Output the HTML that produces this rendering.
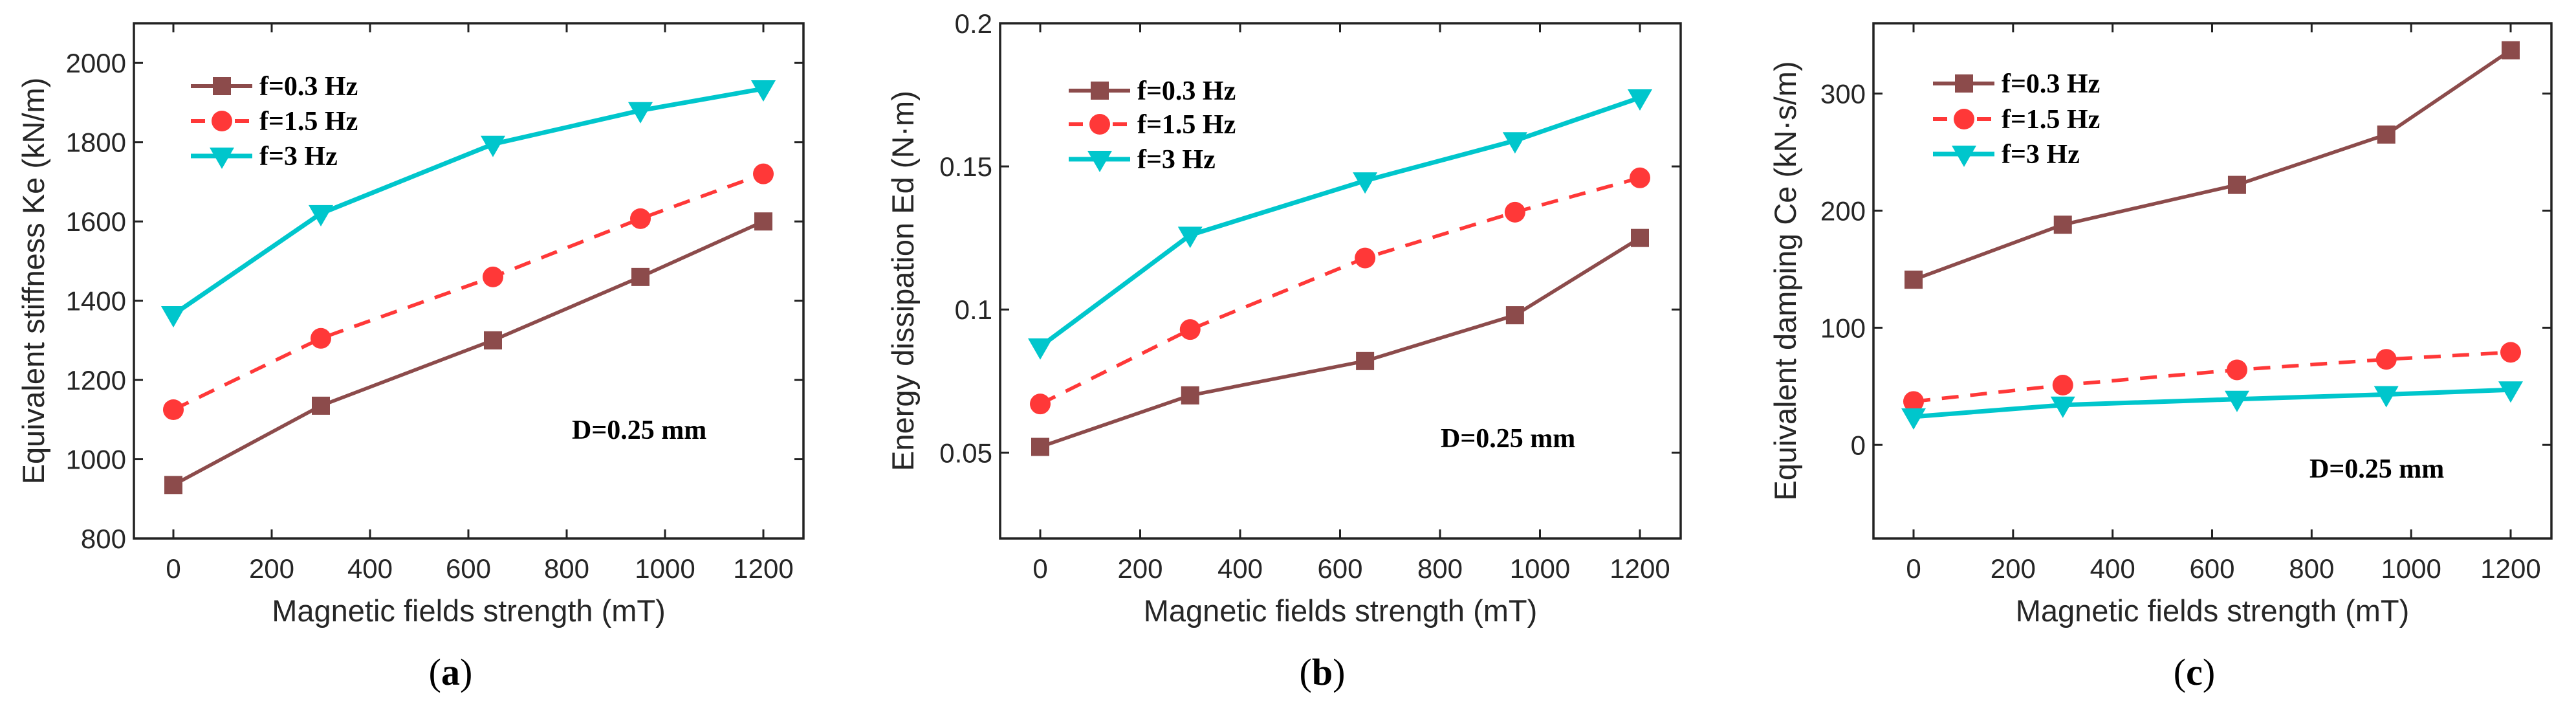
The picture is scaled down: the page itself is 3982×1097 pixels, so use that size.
<!DOCTYPE html>
<html><head><meta charset="utf-8"><style>
html,body{margin:0;padding:0;background:#fff;}
svg{display:block;}
text{font-family:"Liberation Sans",sans-serif;}
.tick{font-size:42px;fill:#262626;}
.ttl{font-size:47px;fill:#262626;}
.leg{font-family:"Liberation Serif",serif;font-size:42px;font-weight:bold;fill:#000;}
.cap{font-family:"Liberation Serif",serif;font-size:58px;fill:#000;}
</style></head><body>
<svg id="fig" width="3982" height="1097" xmlns="http://www.w3.org/2000/svg"></svg>
<script>
const xValues = [0, 300, 650, 950, 1200];
const xTicks = [0, 200, 400, 600, 800, 1000, 1200];
const seriesNames = ["f=0.3 Hz", "f=1.5 Hz", "f=3 Hz"];
const aLow = [935, 1135, 1300, 1460, 1600];
const aMid = [1125, 1305, 1460, 1607, 1720];
const aHigh = [1365, 1620, 1795, 1880, 1935];
const aTicks = [800, 1000, 1200, 1400, 1600, 1800, 2000];
const bLow = [0.052, 0.070, 0.082, 0.098, 0.125];
const bMid = [0.067, 0.093, 0.118, 0.134, 0.146];
const bHigh = [0.087, 0.126, 0.145, 0.159, 0.174];
const bTicks = [0.05, 0.1, 0.15, 0.2];
const cLow = [141, 188, 222, 265, 337];
const cMid = [37, 51, 64, 73, 79];
const cHigh = [24, 34, 39, 43, 47];
const cTicks = [0, 100, 200, 300];

const NS = "http://www.w3.org/2000/svg";
const fig = document.getElementById("fig");
function mk(tag, attrs, parent) {
  const e = document.createElementNS(NS, tag);
  for (const k in attrs) e.setAttribute(k, attrs[k]);
  parent.appendChild(e);
  return e;
}
const colors = ["#8c4b4b", "#ff3838", "#00c6cc"];
function marker(kind, x, y, g) {
  let m;
  if (kind === 0) m = mk("rect", {x: x - 14, y: y - 14, width: 28, height: 28, fill: colors[0]}, g);
  else if (kind === 1) m = mk("circle", {cx: x, cy: y, r: 16, fill: colors[1]}, g);
  else m = mk("polygon", {points: `${x-19},${y-13} ${x+19},${y-13} ${x},${y+20}`, fill: colors[2]}, g);
  
  
}
function panel(cfg) {
  const g = mk("g", {}, fig);
  
  
  const X = v => cfg.x0 + (v - 0) / 1200 * (cfg.x1200 - cfg.x0);
  const Y = v => cfg.bottom - (v - cfg.ymin) / (cfg.ymax - cfg.ymin) * (cfg.bottom - cfg.top);
  // ticks
  cfg.yTicks.forEach(t => {
    const y = Y(t);
    mk("line", {x1: cfg.left, x2: cfg.left + 14, y1: y, y2: y, stroke: "#222", "stroke-width": 3}, g);
    mk("line", {x1: cfg.right, x2: cfg.right - 14, y1: y, y2: y, stroke: "#222", "stroke-width": 3}, g);
    const tx = mk("text", {x: cfg.left - 12, y: y + 15, "text-anchor": "end", class: "tick"}, g);
    tx.textContent = cfg.fmt(t);
    
    
  });
  xTicks.forEach(t => {
    const x = X(t);
    mk("line", {x1: x, x2: x, y1: cfg.bottom, y2: cfg.bottom - 14, stroke: "#222", "stroke-width": 3}, g);
    mk("line", {x1: x, x2: x, y1: cfg.top, y2: cfg.top + 14, stroke: "#222", "stroke-width": 3}, g);
    const tx = mk("text", {x: x, y: cfg.bottom + 61, "text-anchor": "middle", class: "tick"}, g);
    tx.textContent = t;
    
    
  });
  const box = mk("rect", {x: cfg.left, y: cfg.top, width: cfg.right - cfg.left, height: cfg.bottom - cfg.top, fill: "none", stroke: "#222", "stroke-width": 3.5}, g);
  
  
  // series
  cfg.series.forEach((vals, i) => {
    const pts = vals.map((v, j) => X(xValues[j]) + "," + Y(v)).join(" ");
    const pl = mk("polyline", {points: pts, fill: "none", stroke: colors[i], "stroke-width": i === 2 ? 7 : 5.5, "stroke-dasharray": i === 1 ? "26,18" : "none", "stroke-linejoin": "round"}, g);
    
    
    vals.forEach((v, j) => marker(i, X(xValues[j]), Y(v), g));
  });
  // legend
  seriesNames.forEach((n, i) => {
    const y = cfg.legY[i];
    const ll = mk("line", {x1: cfg.legX, x2: cfg.legX + 95, y1: y, y2: y, stroke: colors[i], "stroke-width": i === 2 ? 7 : 6, "stroke-dasharray": i === 1 ? "22,12" : "none"}, g);
    
    
    marker(i, cfg.legX + 48, y, g);
    const tx = mk("text", {x: cfg.legX + 106, y: y + 14, class: "leg"}, g);
    tx.textContent = n;
    
    
  });
  const d = mk("text", {x: cfg.dX, y: cfg.dY + 14, class: "leg"}, g);
  d.textContent = "D=0.25 mm";
  
  
  const xt = mk("text", {x: (cfg.left + cfg.right) / 2, y: 960, "text-anchor": "middle", class: "ttl"}, g);
  xt.textContent = "Magnetic fields strength (mT)";
  
  
  const yt = mk("text", {x: 0, y: 0, "text-anchor": "middle", class: "ttl", transform: `translate(${cfg.ytX},434) rotate(-90)`}, g);
  yt.textContent = cfg.ytitle;
  
  
  const cap = mk("text", {x: (cfg.left + cfg.right) / 2 - 28, y: 1058, "text-anchor": "middle", class: "cap"}, g);
  cap.innerHTML = '(<tspan font-weight="bold">' + cfg.cap + '</tspan>)';
  
  
}
panel({name: "panel-a-stiffness", left: 207, right: 1242, top: 36, bottom: 832, x0: 268, x1200: 1180,
  ymin: 800, ymax: 2100, yTicks: aTicks, fmt: t => t, series: [aLow, aMid, aHigh],
  legX: 295, legY: [133, 187, 241], dX: 884, dY: 664, ytX: 68, ytitle: "Equivalent stiffness Ke (kN/m)", cap: "a"});
panel({name: "panel-b-energy", left: 1546, right: 2598, top: 36, bottom: 832, x0: 1608, x1200: 2535,
  ymin: 0.02, ymax: 0.2, yTicks: bTicks, fmt: t => t, series: [bLow, bMid, bHigh],
  legX: 1652, legY: [140, 192, 246], dX: 2227, dY: 677, ytX: 1412, ytitle: "Energy dissipation Ed (N·m)", cap: "b"});
panel({name: "panel-c-damping", left: 2896, right: 3944, top: 36, bottom: 832, x0: 2958, x1200: 3881,
  ymin: -80, ymax: 360, yTicks: cTicks, fmt: t => t, series: [cLow, cMid, cHigh],
  legX: 2988, legY: [129, 184, 238], dX: 3570, dY: 724, ytX: 2776, ytitle: "Equivalent damping Ce (kN·s/m)", cap: "c"});
</script>
</body></html>
